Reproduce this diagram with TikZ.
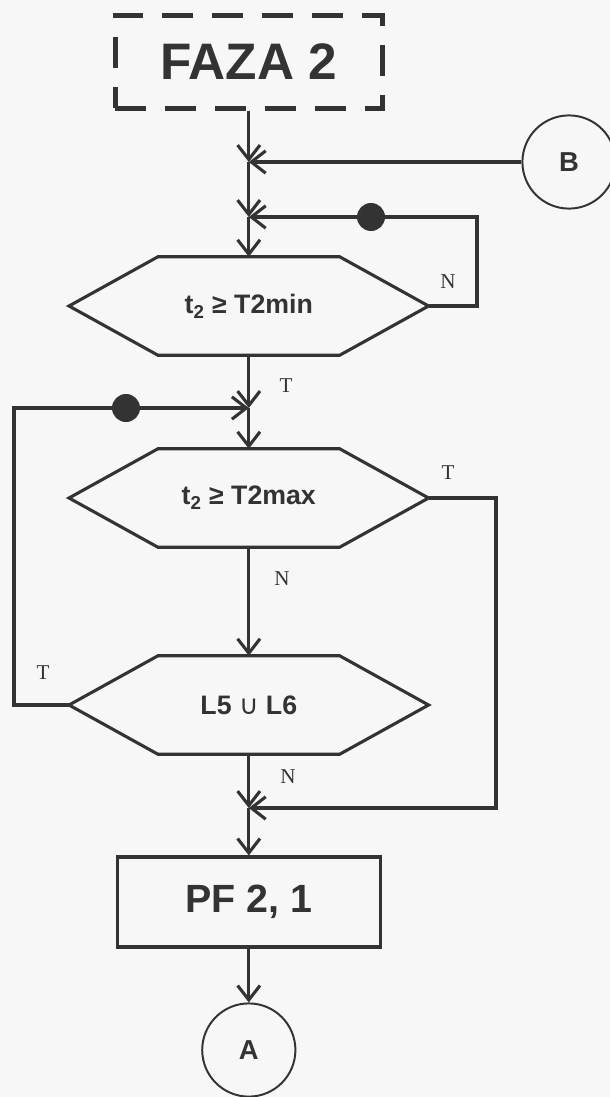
\documentclass[tikz,border=0pt]{standalone}
\usepackage{fontspec}
\setmainfont{Liberation Sans}
\newfontfamily\ynfont{Liberation Serif}
\newfontfamily\cupfont{DejaVu Sans}
\usepackage{tikz}
\usetikzlibrary{arrows.meta}
\definecolor{ink}{gray}{0.2}
\definecolor{paper}{gray}{0.97}

\newcommand{\hexframe}[1]{%
  \draw[hexline] (#1.west) -- ([xshift=2.225cm]#1.north west) -- ([xshift=-2.225cm]#1.north east)
    -- (#1.east) -- ([xshift=-2.225cm]#1.south east) -- ([xshift=2.225cm]#1.south west) -- cycle;}

\begin{document}
\begin{tikzpicture}[
    hexbox/.style={minimum width=8.975cm, minimum height=2.45cm, inner sep=0pt, text=ink, font=\fontsize{19}{21}\selectfont\bfseries},
    hexline/.style={draw=ink, line width=2.2pt, line join=miter},
    procbox/.style={draw=ink, line width=2.2pt, minimum width=6.575cm, minimum height=2.25cm, inner sep=0pt, text=ink, font=\fontsize{28}{30}\selectfont\bfseries},
    phasebox/.style={draw=ink, line width=3.5pt, dash pattern=on 22pt off 13.5pt, minimum width=6.675cm, minimum height=2.325cm, inner sep=0pt, text=ink, font=\fontsize{36.5}{40}\selectfont\bfseries},
    conn/.style={draw=ink, circle, line width=1.4pt, minimum size=2.33cm, inner sep=0pt, text=ink, font=\fontsize{19.5}{21}\selectfont\bfseries},
    blob/.style={circle, fill=ink, minimum size=0.7cm, inner sep=0pt},
    yn/.style={text=ink, inner sep=0pt, font=\ynfont\fontsize{15}{17}\selectfont},
    arr/.style={-{Straight Barb[length=0.36cm, width=0.56cm]}, draw=ink, line width=2.2pt}
]
    \useasboundingbox (0,0) rectangle (15.25,-27.425);
    \fill[paper] (0,0) rectangle (15.25,-27.425);

    \node[phasebox] (faza) at (6.22,-1.54) {FAZA 2};
    \node[conn] (bconn) at (14.225,-4.05) {B};

    \coordinate (j1) at (6.22,-4.05);
    \coordinate (j2) at (6.22,-5.425);
    \coordinate (j3) at (6.22,-10.2);
    \coordinate (j4) at (6.22,-20.2);
    \coordinate (loopa) at (11.925,-5.425);
    \coordinate (loopb) at (0.35,-10.2);
    \coordinate (loopc) at (12.4,-20.2);

    \node[hexbox] (tmin) at (6.22,-7.65) {t\textsubscript{2} ≥ T2min};
    \node[hexbox] (tmax) at (6.22,-12.45) {t\textsubscript{2} ≥ T2max};
    \node[hexbox] (lsum) at (6.22,-17.625) {L5 {\cupfont\mdseries ∪} L6};
    \hexframe{tmin}
    \hexframe{tmax}
    \hexframe{lsum}

    \node[procbox] (pf) at (6.22,-22.55) {PF 2, 1};
    \node[conn] (aconn) at (6.22,-26.25) {A};

    \draw[arr] (faza) -- (j1);
    \draw[arr] (bconn) -- (j1);
    \draw[arr] (j1) -- (j2);
    \draw[arr] (tmin.east) -| (loopa) -- (j2);
    \draw[arr] (j2) -- (tmin.north);
    \draw[arr] (tmin.south) -- (j3);
    \draw[arr] (lsum.west) -| (loopb) -- (j3);
    \draw[arr] (j3) -- (tmax.north);
    \draw[arr] (tmax.east) -| (loopc) -- (j4);
    \draw[arr] (tmax.south) -- (lsum.north);
    \draw[arr] (lsum.south) -- (j4);
    \draw[arr] (j4) -- (pf.north);
    \draw[arr] (pf.south) -- (aconn.north);

    \node[blob] (dota) at (9.275,-5.425) {};
    \node[blob] (dotb) at (3.15,-10.2) {};

    \node[yn] (na) at (11.2,-7.05) {N};
    \node[yn] (ta) at (7.15,-9.65) {T};
    \node[yn] (tb) at (11.2,-11.825) {T};
    \node[yn] (nb) at (7.05,-14.475) {N};
    \node[yn] (tc) at (1.075,-16.825) {T};
    \node[yn] (nc) at (7.2,-19.425) {N};
\end{tikzpicture}
\end{document}
